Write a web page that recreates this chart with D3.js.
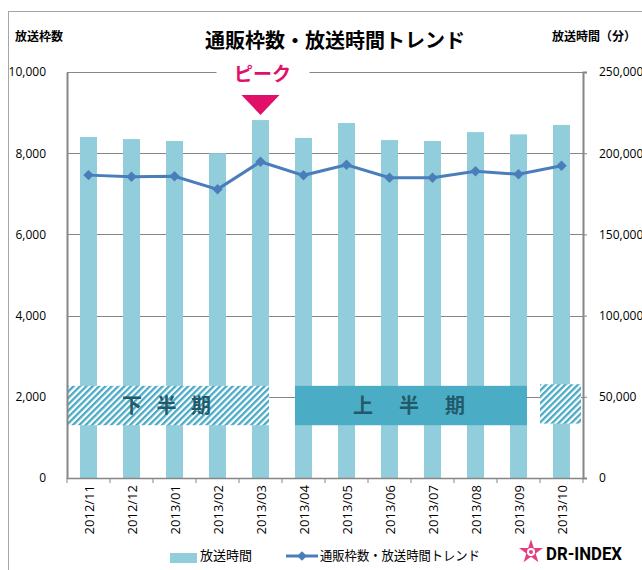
<!DOCTYPE html>
<html>
<head>
<meta charset="utf-8">
<script src="https://cdn.jsdelivr.net/npm/d3@7"></script>
<style>
  html, body { margin: 0; padding: 0; background: #fff; }
  svg { display: block; }
  text { font-family: "Noto Sans CJK JP", "Noto Sans", sans-serif; }
</style>
</head>
<body>
<svg width="642" height="570"></svg>
<script>
// data
var months = ['2012/11', '2012/12', '2013/01', '2013/02', '2013/03', '2013/04',
  '2013/05', '2013/06', '2013/07', '2013/08', '2013/09', '2013/10']
var airTime = [210000, 208700, 207500, 200000, 220400, 209400,
  218600, 208100, 207500, 213000, 211600, 217400]
var slotCount = [7460, 7420, 7430, 7110, 7790, 7455,
  7717, 7397, 7397, 7554, 7480, 7692]
var leftTicks = [0, 2000, 4000, 6000, 8000, 10000]
var rightTicks = [0, 50000, 100000, 150000, 200000, 250000]
var halves = [
  {label: '下 半 期', spacing: 5, from: '2012/11', to: '2013/03', hatch: true, full: false},
  {label: '上　半　期', spacing: 3, from: '2013/04', to: '2013/09', hatch: false, full: false},
  {label: '', spacing: 0, from: '2013/10', to: '2013/10', hatch: true, full: true}
]
var peakMonth = '2013/03'

;(function (d3) {
  var svg = d3.select('svg')
  var left = 67
  var right = 583
  var top = 72
  var bottom = 478
  var grey = '#868686'
  var barColor = '#92cddc'
  var lineColor = '#4a7ebb'

  // pattern for hatched boxes
  var defs = svg.append('defs')
  var pat = defs.append('pattern')
    .attr('id', 'hatch')
    .attr('patternUnits', 'userSpaceOnUse')
    .attr('width', 4.5)
    .attr('height', 4.5)
    .attr('patternTransform', 'rotate(45)')
  pat.append('rect').attr('width', 4.5).attr('height', 4.5).attr('fill', '#fff')
  pat.append('rect').attr('width', 2.3).attr('height', 4.5).attr('fill', '#4aaac5')

  // outer frame
  svg.append('rect')
    .attr('x', 8.5).attr('y', 11.5)
    .attr('width', 700).attr('height', 600)
    .attr('fill', 'none')
    .attr('stroke', '#a6a6a6')

  var x = d3.scaleBand().domain(months).range([left, right])
  var yL = d3.scaleLinear().domain([0, 10000]).range([bottom, top])
  var yR = d3.scaleLinear().domain([0, 250000]).range([bottom, top])
  var barW = 17

  // gridlines
  svg.append('g').selectAll('line')
    .data(leftTicks.slice(1))
    .enter().append('line')
    .attr('x1', left).attr('x2', right)
    .attr('y1', d => Math.round(yL(d)) + 0.5)
    .attr('y2', d => Math.round(yL(d)) + 0.5)
    .attr('stroke', grey)

  // bars
  svg.append('g').selectAll('rect')
    .data(airTime)
    .enter().append('rect')
    .attr('x', (d, i) => x(months[i]) + x.bandwidth() / 2 - barW / 2)
    .attr('width', barW)
    .attr('y', d => yR(d))
    .attr('height', d => bottom - yR(d))
    .attr('fill', barColor)

  // half-year boxes
  var hb = svg.append('g')
  halves.forEach(function (h) {
    var c0 = x(h.from) + x.bandwidth() / 2
    var c1 = x(h.to) + x.bandwidth() / 2
    var x0 = h.from === months[0] ? left + 1 : c0 - barW / 2
    var x1 = c1 + barW / 2
    var y0 = yL(2270)
    var y1 = yL(1300)
    if (h.full) {
      x0 = x(h.from)
      x1 = x(h.from) + x.bandwidth() - 2
      y0 = yL(2310)
      y1 = yL(1340)
    }
    hb.append('rect')
      .attr('x', x0).attr('y', y0)
      .attr('width', x1 - x0).attr('height', y1 - y0)
      .attr('fill', h.hatch ? 'url(#hatch)' : '#4bacc6')
    if (h.label) {
      hb.append('text')
        .attr('x', (x0 + x1) / 2 + h.spacing / 2 - 2)
        .attr('y', (y0 + y1) / 2 + 7)
        .attr('text-anchor', 'middle')
        .style('font-size', '20px')
        .style('font-weight', 'bold')
        .style('letter-spacing', h.spacing + 'px')
        .style('white-space', 'pre')
        .style('fill', '#215a69')
        .text(h.label)
    }
  })

  // axes
  var axL = d3.axisLeft(yL).tickValues(leftTicks).tickSize(0).tickPadding(21)
    .tickFormat(d3.format(','))
  var axR = d3.axisRight(yR).tickValues(rightTicks).tickSize(4).tickPadding(12)
    .tickFormat(d3.format(','))
  var gL = svg.append('g').attr('transform', `translate(${left},0)`).call(axL)
  var gR = svg.append('g').attr('transform', `translate(${right},0)`).call(axR)
  ;[gL, gR].forEach(function (g) {
    g.select('.domain').attr('stroke', grey).attr('stroke-width', 2)
    g.selectAll('.tick line').attr('stroke', grey)
    g.selectAll('text')
      .style('font-family', '"Open Sans", "Noto Sans", sans-serif')
      .style('font-size', '12px')
      .style('fill', '#000')
  })

  // x axis
  var gx = svg.append('g')
  gx.append('line')
    .attr('x1', left).attr('x2', right)
    .attr('y1', bottom + 0.5).attr('y2', bottom + 0.5)
    .attr('stroke', grey).attr('stroke-width', 1.5)
  gx.selectAll('.xt')
    .data(months.concat(['end']))
    .enter().append('line')
    .attr('x1', (d, i) => left + i * x.bandwidth())
    .attr('x2', (d, i) => left + i * x.bandwidth())
    .attr('y1', bottom).attr('y2', bottom + 5)
    .attr('stroke', grey)
  gx.selectAll('text')
    .data(months)
    .enter().append('text')
    .attr('transform', d => `translate(${x(d) + x.bandwidth() / 2 + 5},${bottom + 7}) rotate(-90)`)
    .attr('text-anchor', 'end')
    .style('font-family', '"Open Sans", "Noto Sans", sans-serif')
    .style('font-size', '13px')
    .text(d => d)

  // line
  var ln = d3.line()
    .x((d, i) => x(months[i]) + x.bandwidth() / 2)
    .y(d => yL(d))
  svg.append('path')
    .datum(slotCount)
    .attr('d', ln)
    .attr('fill', 'none')
    .attr('stroke', lineColor)
    .attr('stroke-width', 3)
  svg.append('g').selectAll('path')
    .data(slotCount)
    .enter().append('path')
    .attr('d', d3.symbol().type(d3.symbolDiamond2).size(70))
    .attr('transform', (d, i) => `translate(${x(months[i]) + x.bandwidth() / 2},${yL(d)})`)
    .attr('fill', lineColor)

  // peak marker
  var px = x(peakMonth) + x.bandwidth() / 2
  svg.append('rect')
    .attr('x', px - 44).attr('y', top - 10)
    .attr('width', 93).attr('height', 20)
    .attr('fill', '#fff')
  svg.append('text')
    .attr('x', px + 2).attr('y', top + 9)
    .attr('text-anchor', 'middle')
    .style('font-size', '19px')
    .style('font-weight', 'bold')
    .style('fill', '#e0106a')
    .text('ピーク')
  svg.append('path')
    .attr('d', `M${px - 19},${top + 23}L${px + 19},${top + 23}L${px},${top + 43}Z`)
    .attr('fill', '#e0106a')

  // titles
  svg.append('text')
    .attr('x', 335).attr('y', 48)
    .attr('text-anchor', 'middle')
    .style('font-size', '20px')
    .style('font-weight', 'bold')
    .text('通販枠数・放送時間トレンド')
  svg.append('text')
    .attr('x', 15).attr('y', 41)
    .style('font-size', '12px')
    .style('font-weight', 'bold')
    .text('放送枠数')
  svg.append('text')
    .attr('x', 552).attr('y', 41)
    .style('font-size', '12px')
    .style('font-weight', 'bold')
    .text('放送時間（分）')

  // legend
  var lg = svg.append('g')
  lg.append('rect')
    .attr('x', 170).attr('y', 553).attr('width', 27).attr('height', 10)
    .attr('fill', barColor)
  lg.append('text')
    .attr('x', 200).attr('y', 560)
    .style('font-size', '13px')
    .text('放送時間')
  lg.append('line')
    .attr('x1', 286).attr('x2', 318).attr('y1', 556).attr('y2', 556)
    .attr('stroke', lineColor).attr('stroke-width', 3)
  lg.append('path')
    .attr('d', d3.symbol().type(d3.symbolDiamond2).size(60))
    .attr('transform', 'translate(302,556)')
    .attr('fill', lineColor)
  lg.append('text')
    .attr('x', 320).attr('y', 560)
    .attr('textLength', 160)
    .attr('lengthAdjust', 'spacingAndGlyphs')
    .style('font-size', '13px')
    .text('通販枠数・放送時間トレンド')

  // logo
  var logo = svg.append('g').attr('transform', 'translate(531,552)')
  logo.append('path')
    .attr('d', d3.symbol().type(d3.symbolStar).size(180))
    .attr('fill', '#e53d83')
  logo.append('circle').attr('r', 4).attr('fill', '#fff')
  logo.append('circle').attr('r', 2).attr('fill', '#e53d83')
  svg.append('text')
    .attr('x', 546).attr('y', 560)
    .attr('textLength', 76)
    .attr('lengthAdjust', 'spacingAndGlyphs')
    .style('font-family', 'Roboto, "DejaVu Sans", sans-serif')
    .style('font-size', '18px')
    .style('font-weight', 'bold')
    .text('DR-INDEX')
})(window.d3)
</script>
</body>
</html>
